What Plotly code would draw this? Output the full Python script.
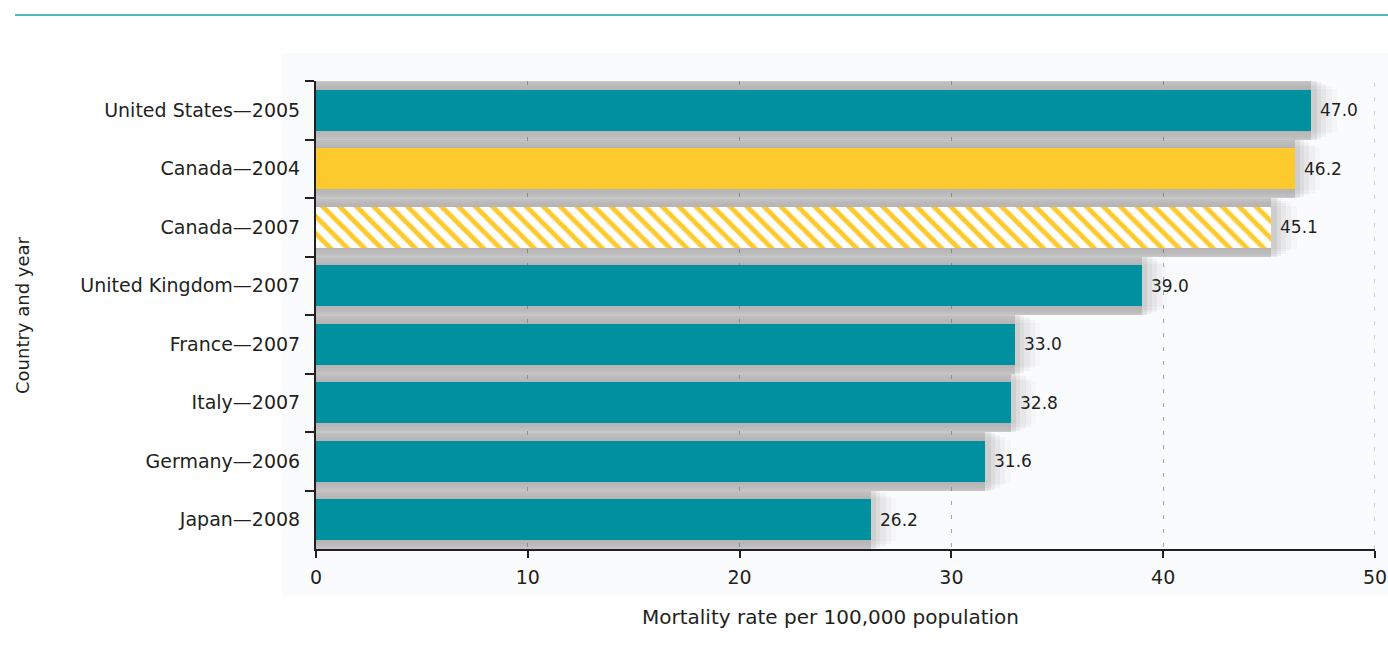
import plotly.graph_objects as go

# Mortality rates by country and reference year
categories = [
    "United States—2005",
    "Canada—2004",
    "Canada—2007",
    "United Kingdom—2007",
    "France—2007",
    "Italy—2007",
    "Germany—2006",
    "Japan—2008",
]
rates = [47.0, 46.2, 45.1, 39.0, 33.0, 32.8, 31.6, 26.2]
x_ticks = [0, 10, 20, 30, 40, 50]

TEAL = "#0091a0"
YELLOW = "#fdca2e"
TEXT = "#231f20"
FONT = "DejaVu Sans"
GRID = "#a8a8a8"

bar_colors = [TEAL, YELLOW, YELLOW, TEAL, TEAL, TEAL, TEAL, TEAL]
hatched = [False, False, True, False, False, False, False, False]
BAR_WIDTH = 0.70

fig = go.Figure()

# soft drop shadow behind the bars: stacked translucent layers that
# reach a little past each bar's end and taper towards the tip
shadow_layers = [
    (1.20, 0.74, 0.035),
    (0.95, 0.82, 0.045),
    (0.70, 0.90, 0.06),
    (0.45, 0.97, 0.08),
    (0.25, 1.00, 0.11),
    (0.00, 1.00, 0.26),
]
for extra, width, alpha in shadow_layers:
    fig.add_trace(go.Bar(
        y=categories,
        x=[v + extra for v in rates],
        orientation="h",
        width=width,
        marker=dict(color=f"rgba(108,104,102,{alpha})", line=dict(width=0)),
        hoverinfo="skip",
        showlegend=False,
    ))

# opaque white backing so the hatch stripes read as white
fig.add_trace(go.Bar(
    y=categories,
    x=rates,
    orientation="h",
    width=BAR_WIDTH,
    marker=dict(color="white", line=dict(width=0)),
    hoverinfo="skip",
    showlegend=False,
))

# main bars
fig.add_trace(go.Bar(
    y=categories,
    x=rates,
    orientation="h",
    width=BAR_WIDTH,
    marker=dict(
        color=bar_colors,
        line=dict(width=0),
        pattern=dict(
            shape=["\\" if h else "" for h in hatched],
            fillmode="replace",
            bgcolor=YELLOW,
            fgcolor="white",
            fgopacity=1,
            size=12,
            solidity=0.4,
        ),
    ),
    hoverinfo="x+y",
    showlegend=False,
))

# value labels just past the end of each bar
value_labels = [
    dict(x=v, y=c, text=f"{v:.1f}", xref="x", yref="y",
         xanchor="left", yanchor="middle", xshift=7, showarrow=False,
         font=dict(family=FONT, size=17, color=TEXT))
    for c, v in zip(categories, rates)
]

fig.update_layout(
    width=1388,
    height=647,
    margin=dict(l=316, r=13, t=81, b=98, autoexpand=False),
    paper_bgcolor="white",
    plot_bgcolor="rgba(0,0,0,0)",
    barmode="overlay",
    bargap=0,
    font=dict(family=FONT, color=TEXT),
    xaxis=dict(
        range=[0, 50],
        tickvals=x_ticks,
        ticktext=[str(t) for t in x_ticks],
        showgrid=True,
        gridcolor=GRID,
        griddash="4px,10px",
        gridwidth=1,
        zeroline=False,
        showline=True,
        linecolor=TEXT,
        linewidth=2,
        ticks="outside",
        ticklen=7,
        tickwidth=2,
        tickcolor=TEXT,
        tickfont=dict(family=FONT, size=19, color=TEXT),
        ticklabelstandoff=3,
        automargin=False,
        fixedrange=True,
    ),
    yaxis=dict(
        categoryorder="array",
        categoryarray=categories,
        autorange="reversed",
        showline=True,
        linecolor=TEXT,
        linewidth=2,
        ticks="outside",
        tickson="boundaries",
        ticklen=9,
        tickwidth=2,
        tickcolor=TEXT,
        showgrid=False,
        tickfont=dict(family=FONT, size=19, color=TEXT),
        ticklabelstandoff=10,
        automargin=False,
        fixedrange=True,
    ),
    shapes=[
        # faint panel behind the plot
        dict(type="rect", xref="paper", yref="paper",
             x0=-0.032, x1=1.0123, y0=-0.10, y1=1.06,
             fillcolor="#fafbfd", line=dict(width=0), layer="below"),
        # dashed gridline on the last tick, at the edge of the plot
        dict(type="line", xref="x", yref="paper",
             x0=x_ticks[-1], x1=x_ticks[-1], y0=0, y1=1,
             line=dict(color=GRID, width=1, dash="4px,10px"), layer="below"),
        # rule across the top of the page
        dict(type="line", xref="paper", yref="paper",
             x0=-0.2842, x1=1.0123, y0=1.141, y1=1.141,
             line=dict(color="#1a9fa8", width=1.5)),
    ],
    annotations=value_labels + [
        dict(text="Mortality rate per 100,000 population",
             xref="paper", yref="paper", x=0.4854, y=-0.1453,
             xanchor="center", yanchor="middle", showarrow=False,
             font=dict(family=FONT, size=20, color=TEXT)),
        dict(text="Country and year",
             xref="paper", yref="paper", x=-0.2776, y=0.5,
             xanchor="center", yanchor="middle", textangle=-90,
             showarrow=False,
             font=dict(family=FONT, size=18, color=TEXT)),
    ],
)

fig.write_html("out.html")
